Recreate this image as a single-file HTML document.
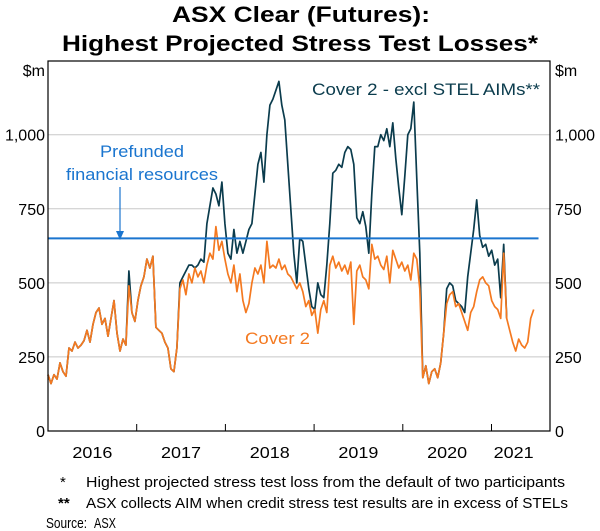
<!DOCTYPE html>
<html><head><meta charset="utf-8"><style>
body{margin:0;background:#fff;}
svg{display:block;font-family:"Liberation Sans",Arial,sans-serif;}
</style></head><body>
<svg id="chart" width="600" height="531" viewBox="0 0 600 531">
<g id="title" font-weight="bold" font-size="22" text-anchor="middle" fill="#000">
<text x="301" y="22" textLength="258" lengthAdjust="spacingAndGlyphs">ASX Clear (Futures):</text>
<text x="300" y="51" textLength="476" lengthAdjust="spacingAndGlyphs">Highest Projected Stress Test Losses*</text>
</g>
<g id="grid"></g>
<g id="series"></g>
<rect x="48" y="61" width="502" height="370" fill="none" stroke="#000" stroke-width="1.2"/>
<g id="axes" font-size="16" fill="#000"></g>
<g font-size="17">
<text x="142" y="157" text-anchor="middle" textLength="84" lengthAdjust="spacingAndGlyphs" fill="#1a75cf">Prefunded</text>
<text x="142" y="180" text-anchor="middle" textLength="152" lengthAdjust="spacingAndGlyphs" fill="#1a75cf">financial resources</text>
<line x1="120" y1="187" x2="120" y2="234" stroke="#1a75cf" stroke-width="1.2"/>
<polygon points="116,231 124,231 120,240" fill="#1a75cf"/>
<text x="540" y="95" text-anchor="end" textLength="228" lengthAdjust="spacingAndGlyphs" fill="#0b3c4d">Cover 2 - excl STEL AIMs**</text>
<text x="245" y="344" textLength="65" lengthAdjust="spacingAndGlyphs" fill="#f47920">Cover 2</text>
</g>
<g font-size="15" fill="#000">
<text x="60" y="487">*</text>
<text x="86" y="487" textLength="479" lengthAdjust="spacingAndGlyphs">Highest projected stress test loss from the default of two participants</text>
<text x="58" y="508" font-weight="bold">**</text>
<text x="86" y="508" textLength="482" lengthAdjust="spacingAndGlyphs">ASX collects AIM when credit stress test results are in excess of STELs</text>
<text x="46" y="528" textLength="41" lengthAdjust="spacingAndGlyphs">Source:</text>
<text x="94" y="528" textLength="22" lengthAdjust="spacingAndGlyphs">ASX</text>
</g>
</svg>
<script>
const yTicks = [0, 250, 500, 750, 1000];
const yTickLabels = ["0", "250", "500", "750", "1,000"];
const yearLabels = ["2016", "2017", "2018", "2019", "2020", "2021"];
const yearLabelPos = [2016.5, 2017.5, 2018.5, 2019.5, 2020.5, 2021.25];
const yearTicks = [2017, 2018, 2019, 2020, 2021];
const startYear = 2016.0;
const stepYears = 0.0338;
const prefunded = 650;
const prefundedEnd = 2021.53;
const cover2 = [190,160,190,175,230,200,185,280,270,300,280,290,305,340,300,360,400,415,360,380,320,380,440,330,270,310,290,490,400,370,440,490,520,580,550,590,350,340,330,300,280,210,200,280,480,510,460,530,500,550,520,540,500,560,600,580,690,610,640,580,530,500,560,470,530,440,400,430,500,550,530,560,500,640,550,560,550,580,545,560,530,520,500,480,500,470,420,440,390,410,330,410,440,400,560,590,550,570,540,560,530,570,360,540,560,520,510,480,630,580,590,560,545,590,500,610,580,550,570,540,560,510,600,580,480,180,220,160,200,210,180,230,330,430,460,470,420,430,400,370,340,400,420,470,510,520,500,490,440,420,410,380,600,380,340,300,270,310,290,280,300,380,410];
const cover2Excl = [190,160,190,175,230,200,185,280,270,300,280,290,305,340,300,360,400,415,360,380,320,380,440,330,270,310,290,540,400,370,440,490,520,580,550,590,350,340,330,300,280,210,200,280,500,520,540,560,560,550,560,580,570,700,760,820,800,760,840,700,600,580,680,600,640,600,640,680,700,800,900,940,840,1000,1100,1120,1150,1180,1100,1050,900,750,600,500,650,640,560,480,420,410,500,460,450,560,700,870,880,900,890,940,960,950,900,720,700,740,690,600,800,960,960,1000,980,1020,960,1040,920,820,730,860,1000,1020,1110,850,600,180,220,160,200,210,180,230,330,480,500,490,440,430,420,400,520,600,680,780,660,620,630,590,610,560,580,450,630,380];

const X0 = 48, XPY = 88.7, Y0 = 431, YPU = 0.2963;
function xs(yr){ return X0 + (yr - 2016) * XPY; }
function ys(v){ return Y0 - v * YPU; }
const NS = "http://www.w3.org/2000/svg";
function mk(tag, attrs, parent){ const e = document.createElementNS(NS, tag); for (const k in attrs) e.setAttribute(k, attrs[k]); parent.appendChild(e); return e; }
const grid = document.getElementById('grid'), axes = document.getElementById('axes'), series = document.getElementById('series');

yTicks.forEach((t, i) => {
  if (t > 0) {
    const g = mk('line', {x1: 48, x2: 550, y1: ys(t), y2: ys(t), stroke: '#c8c8c8', 'stroke-width': 1}, grid);
    
    
  }
  const l = mk('text', {x: 45, y: ys(t) + 6, 'text-anchor': 'end'}, axes);
  l.textContent = yTickLabels[i];
  
  
  const r = mk('text', {x: 555, y: ys(t) + 6}, axes);
  r.textContent = yTickLabels[i];
  
  
});
const ul = mk('text', {x: 45, y: 76, 'text-anchor': 'end'}, axes); ul.textContent = '$m';


const ur = mk('text', {x: 555, y: 76}, axes); ur.textContent = '$m';


yearTicks.forEach(t => {
  const tk = mk('line', {x1: xs(t), x2: xs(t), y1: 431, y2: 424, stroke: '#000', 'stroke-width': 1}, axes);
  
  
});
yearLabels.forEach((lab, i) => {
  const t = mk('text', {x: xs(yearLabelPos[i]), y: 458, 'text-anchor': 'middle', textLength: 40, lengthAdjust: 'spacingAndGlyphs'}, axes);
  t.textContent = lab;
  
  
});
function path(vals){ return vals.map((v, i) => (i ? 'L' : 'M') + xs(startYear + i * stepYears).toFixed(1) + ',' + ys(v).toFixed(1)).join(''); }
const pe = mk('path', {d: path(cover2Excl), fill: 'none', stroke: '#0b3c4d', 'stroke-width': 1.7, 'stroke-linejoin': 'round'}, series);


const pc = mk('path', {d: path(cover2), fill: 'none', stroke: '#f47920', 'stroke-width': 1.7, 'stroke-linejoin': 'round'}, series);


const pf = mk('line', {x1: xs(2016), x2: xs(prefundedEnd), y1: ys(prefunded), y2: ys(prefunded), stroke: '#1a75cf', 'stroke-width': 2}, series);


</script>
</body></html>
